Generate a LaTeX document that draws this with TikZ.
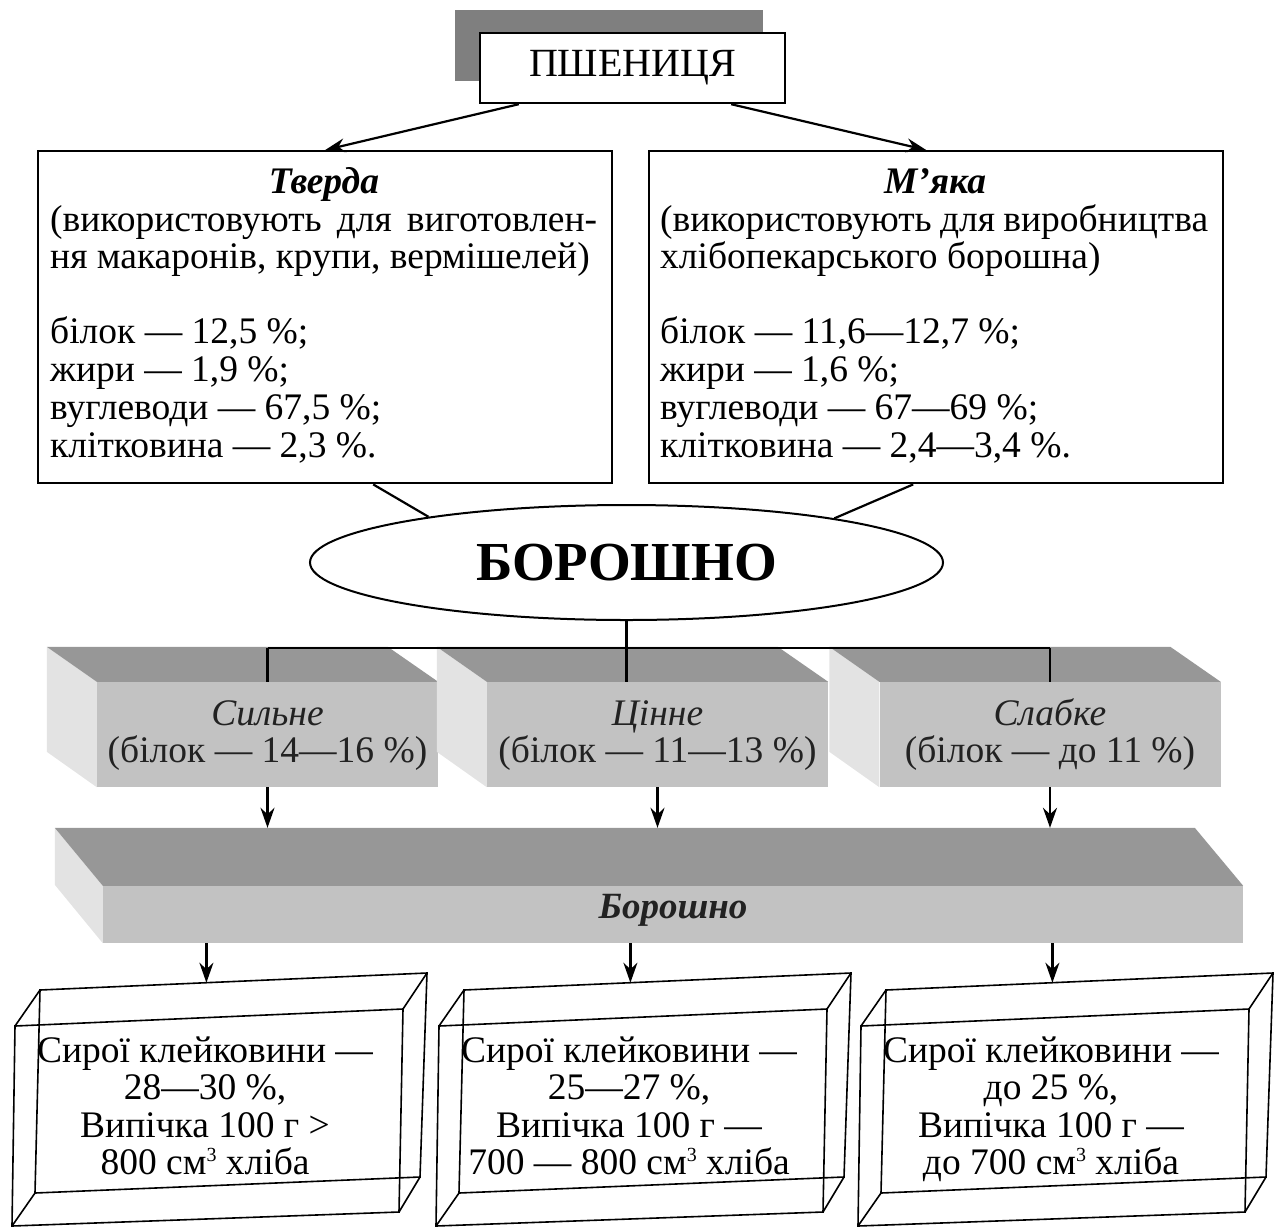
\documentclass[tikz,border=0pt]{standalone}
\usepackage{fontspec}
\setmainfont{Liberation Serif}
\usetikzlibrary{shapes.geometric,arrows.meta,calc}
\definecolor{shadowgray}{HTML}{7F7F7F}
\definecolor{topgray}{HTML}{979797}
\definecolor{frontgray}{HTML}{C2C2C2}
\definecolor{sidegray}{HTML}{E3E3E3}
\definecolor{ink}{HTML}{222222}
\tikzset{
  txt/.style={font=\fontsize{37.5}{38}\selectfont, inner sep=0pt},
  boxline/.style={draw=black, line width=2.4pt, fill=white, inner sep=0pt},
  conn/.style={line width=2.2pt},
  arr/.style={line width=2.2pt, -{Stealth[length=20pt,width=14pt]}},
  wire/.style={line width=1.6pt, line join=miter},
  frontface/.style={rectangle, fill=frontgray, minimum width=341pt, minimum height=105pt, inner sep=0pt},
}
\newcommand\cubed{\raisebox{13pt}{\fontsize{20}{20}\selectfont 3}}
\newcommand\solidbox[4]{%
  \node[frontface] (#1) at (#2,734.5) {};
  \fill[sidegray] (#1.north west) -- ++(-50,-35) -- ++(0,105) -- (#1.south west) -- cycle;
  \fill[topgray] (#1.north west) -- ++(-50,-35) -- ++(341,0) -- (#1.north east) -- cycle;
  \node[txt, text=ink, anchor=base] (#1-h) at (#2,725) {\itshape #3};
  \node[txt, text=ink, anchor=base] (#1-t) at (#2,762) {#4};
}
\newcommand\wirebox[6]{%
  \coordinate (#2ftl) at ({#1+15},1026);
  \coordinate (#2ftr) at ({#1+403},1009);
  \coordinate (#2fbr) at ({#1+399},1212);
  \coordinate (#2fbl) at ({#1+12},1226);
  \coordinate (#2btl) at ({#1+40},990);
  \coordinate (#2btr) at ({#1+427},973);
  \coordinate (#2bbr) at ({#1+420},1177);
  \coordinate (#2bbl) at ({#1+35},1193);
  \draw[wire] (#2ftl) -- (#2ftr) -- (#2fbr) -- (#2fbl) -- cycle;
  \draw[wire] (#2btl) -- (#2btr) -- (#2bbr) -- (#2bbl) -- cycle;
  \draw[wire] (#2ftl) -- (#2btl) (#2ftr) -- (#2btr) (#2fbr) -- (#2bbr) (#2fbl) -- (#2bbl);
  \path (#2btl) -- (#2btr) coordinate[pos=0.43] (#2tip);
  \node[txt, anchor=base] (#2-1) at ({#1+205},1062) {#3};
  \node[txt, anchor=base] (#2-2) at ({#1+205},1099) {#4};
  \node[txt, anchor=base] (#2-3) at ({#1+205},1137) {#5};
  \node[txt, anchor=base] (#2-4) at ({#1+205},1174) {#6};
}
\begin{document}
\begin{tikzpicture}[x=1pt,y=-1pt]
\useasboundingbox (0,0) rectangle (1274,1227);

% ---- top: wheat
\fill[shadowgray] (455,10) rectangle (763,81);
\node[boxline, minimum width=305pt, minimum height=70pt,
      font=\fontsize{40}{42}\selectfont] (psh) at (632.5,68) {ПШЕНИЦЯ};

% ---- two wheat boxes
\node[boxline, minimum width=574pt, minimum height=332pt, anchor=north west] (tverda) at (37,150) {};
\node[boxline, minimum width=574pt, minimum height=332pt, anchor=north west] (myaka) at (648,150) {};

\draw[arr] ([xshift=40pt]psh.south west) -- (tverda.north);
\draw[arr] ([xshift=-55pt]psh.south east) -- ([xshift=-10pt]myaka.north);

\node[txt, anchor=base] (tv-h) at (324,193) {\bfseries\itshape Тверда};
\node[txt, anchor=base west] (tv-1) at (50,231) {\makebox[547pt][s]{(використовують для виготовлен-}};
\node[txt, anchor=base west] (tv-2) at (50,268) {ня макаронів, крупи, вермішелей)};
\node[txt, anchor=base west] (tv-3) at (50,343) {білок — 12,5 \%;};
\node[txt, anchor=base west] (tv-4) at (50,381) {жири — 1,9 \%;};
\node[txt, anchor=base west] (tv-5) at (50,419) {вуглеводи — 67,5 \%;};
\node[txt, anchor=base west] (tv-6) at (50,457) {клітковина — 2,3 \%.};

\node[txt, anchor=base] (mk-h) at (935,193) {\bfseries\itshape М’яка};
\node[txt, anchor=base west] (mk-1) at (660,231) {\makebox[548pt][s]{(використовують для виробництва}};
\node[txt, anchor=base west] (mk-2) at (660,268) {хлібопекарського борошна)};
\node[txt, anchor=base west] (mk-3) at (660,343) {білок — 11,6—12,7 \%;};
\node[txt, anchor=base west] (mk-4) at (660,381) {жири — 1,6 \%;};
\node[txt, anchor=base west] (mk-5) at (660,419) {вуглеводи — 67—69 \%;};
\node[txt, anchor=base west] (mk-6) at (660,457) {клітковина — 2,4—3,4 \%.};

% ---- flour ellipse
\node[ellipse, draw, line width=2pt, minimum width=633pt, minimum height=115pt, inner sep=0pt,
      font=\fontsize{55}{58}\selectfont\bfseries] (bor) at (626.5,562.5) {БОРОШНО};
\draw[conn] ([xshift=48pt]tverda.south) -- (bor.167);
\draw[conn] ([xshift=-23pt]myaka.south) -- (bor.12);

% ---- three solid boxes
\solidbox{sil}{267.5}{Сильне}{(білок — 14—16 \%)}
\solidbox{cin}{657.5}{Цінне}{(білок — 11—13 \%)}
\solidbox{sla}{1050}{Слабке}{(білок — до 11 \%)}

\coordinate (brk) at (0,648);
\draw[conn] (bor.south) -- (bor.south |- cin.north);
\draw[conn] (sil.north |- brk) -- (sla.north |- brk);
\draw[conn] (sil.north |- brk) -- (sil.north);
\draw[conn] (sla.north |- brk) -- (sla.north);

% ---- flour bar
\node[rectangle, fill=frontgray, minimum width=1140pt, minimum height=57pt, inner sep=0pt] (bar) at (673,914.5) {};
\fill[sidegray] (bar.north west) -- ++(-48,-58) -- ++(0,57) -- (bar.south west) -- cycle;
\fill[topgray] (bar.north west) -- ++(-48,-58) -- ++(1140,0) -- (bar.north east) -- cycle;
\node[txt, text=ink, anchor=base, font=\fontsize{37}{38}\selectfont\bfseries\itshape] (bar-t) at (673,918) {Борошно};
\coordinate (bartop) at ([yshift=58pt]bar.north);

\draw[arr] (sil.south) -- (sil.south |- bartop);
\draw[arr] (cin.south) -- (cin.south |- bartop);
\draw[arr] (sla.south) -- (sla.south |- bartop);

% ---- wireframe boxes
\wirebox{0}{wa}{Сирої клейковини —}{28—30 \%,}{Випічка 100 г >}{800 см\cubed{} хліба}
\wirebox{424}{wb}{Сирої клейковини —}{25—27 \%,}{Випічка 100 г —}{700 — 800 см\cubed{} хліба}
\wirebox{846}{wc}{Сирої клейковини —}{до 25 \%,}{Випічка 100 г —}{до 700 см\cubed{} хліба}

\draw[arr] (bar.south -| watip) -- (watip);
\draw[arr] (bar.south -| wbtip) -- (wbtip);
\draw[arr] (bar.south -| wctip) -- (wctip);
\end{tikzpicture}
\end{document}
